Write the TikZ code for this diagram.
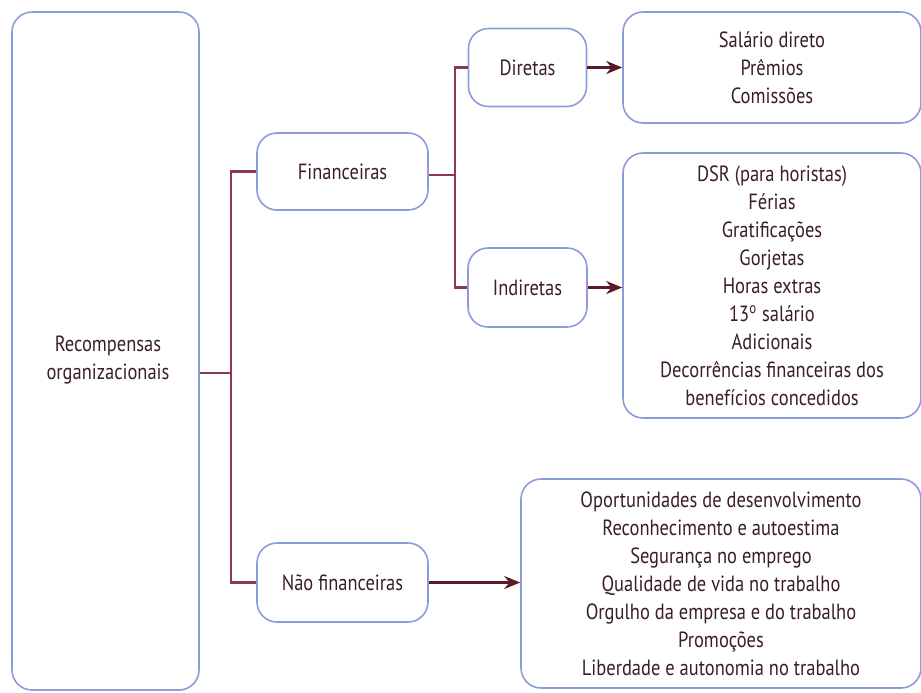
\documentclass[tikz,border=0pt]{standalone}
\usepackage{fontspec}
\setmainfont{PT Sans}[FakeStretch=0.84]
\usepackage{tikz}
\usetikzlibrary{arrows.meta,calc}
\definecolor{Lavender}{HTML}{8C9CD8}
\definecolor{Maroon}{HTML}{8B3A4A}
\definecolor{DarkMaroon}{HTML}{5A1A28}
\definecolor{InkText}{HTML}{3A1E2E}
\tikzset{
    % rounded boxes, thin lavender border
    catbox/.style={
        rectangle,
        rounded corners=10pt,
        draw=Lavender,
        fill=white,
        line width=0.8pt,
        align=center,
        text=InkText,
        font=\fontsize{11}{14}\selectfont,
        inner sep=0pt
    },
    listbox/.style={
        catbox,
        minimum width=149pt
    },
    link/.style={
        line width=1.3pt,
        color=Maroon
    },
    arrow/.style={
        -{Stealth[length=8pt,width=6.5pt]},
        line width=1.3pt,
        color=DarkMaroon
    }
}
\begin{document}
\begin{tikzpicture}[x=0.5pt,y=-0.5pt]
    \useasboundingbox (0,0) rectangle (921,692);

    \node[catbox, minimum width=93.5pt, minimum height=339pt] (root) at (105.5,351) {};
    \node[text=InkText, align=center, font=\fontsize{11}{14}\selectfont] (roottext) at (108,360) {Recompensas\\organizacionais};

    \node[catbox, minimum width=85.5pt, minimum height=38.5pt] (fin) at (342.5,171.5) {Financeiras};
    \node[catbox, minimum width=85.5pt, minimum height=39.5pt] (nao) at (342.5,582.5) {Não financeiras};
    \node[catbox, minimum width=59pt, minimum height=39pt] (dir) at (527.5,67.5) {Diretas};
    \node[catbox, minimum width=59.5pt, minimum height=39.5pt] (ind) at (527.5,287.5) {Indiretas};

    \node[listbox, minimum height=55.5pt] (dirlist) at (772,67.5) {
        Salário direto\\
        Prêmios\\
        Comissões
    };
    \node[listbox, minimum height=132.5pt] (indlist) at (772,285.5) {
        DSR (para horistas)\\
        Férias\\
        Gratificações\\
        Gorjetas\\
        Horas extras\\
        13\textsuperscript{o} salário\\
        Adicionais\\
        Decorrências financeiras dos\\
        benefícios concedidos
    };
    \node[listbox, minimum width=200pt, minimum height=104.5pt] (naolist) at (721,583.5) {
        Oportunidades de desenvolvimento\\
        Reconhecimento e autoestima\\
        Segurança no emprego\\
        Qualidade de vida no trabalho\\
        Orgulho da empresa e do trabalho\\
        Promoções\\
        Liberdade e autonomia no trabalho
    };

    \coordinate (rootjoin) at (231,373);
    \coordinate (finjoin) at (455,175);

    \draw[link] (root.east |- rootjoin) -- (rootjoin);
    \draw[link] (fin.west) -| (rootjoin) |- (nao.west);
    \draw[link] (fin.east |- finjoin) -- (finjoin);
    \draw[link] (dir.west) -| (finjoin) |- (ind.west);

    \draw[arrow] (dir.east) -- (dir.east -| dirlist.west);
    \draw[arrow] (ind.east) -- (ind.east -| indlist.west);
    \draw[arrow] (nao.east) -- (nao.east -| naolist.west);
\end{tikzpicture}
\end{document}
